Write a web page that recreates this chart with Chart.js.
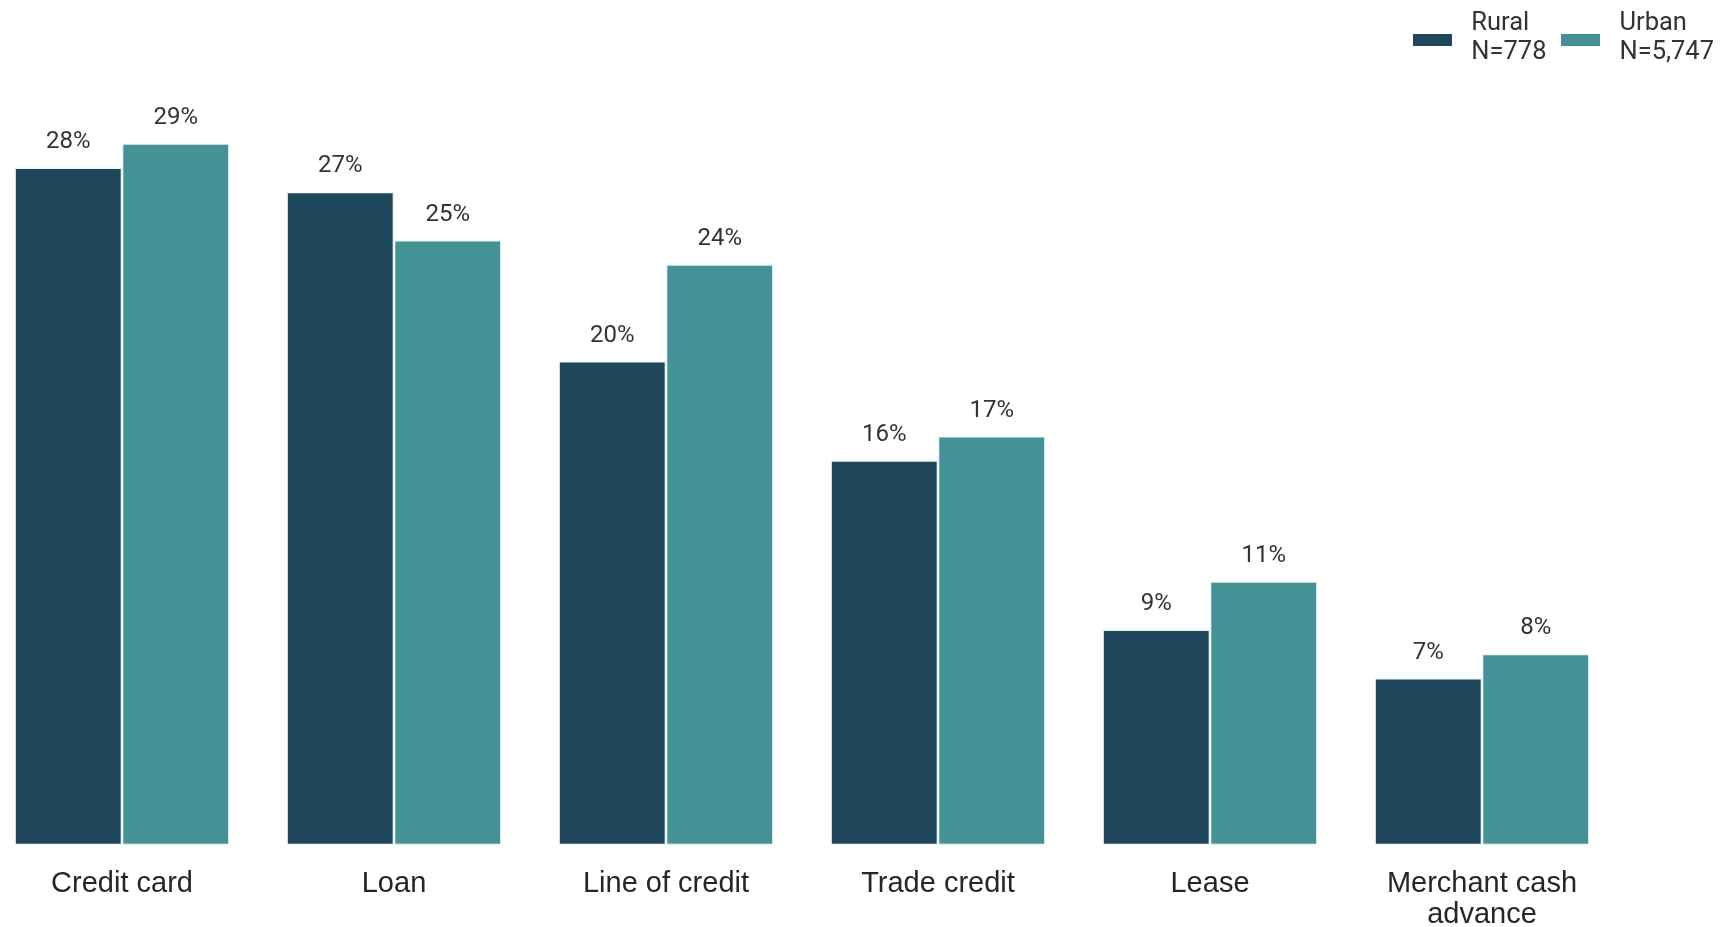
<!DOCTYPE html>
<html>
<head>
<meta charset="utf-8">
<script src="https://cdn.jsdelivr.net/npm/chart.js@4.4.1/dist/chart.umd.min.js"></script>
<style>
    html, body { margin: 0; padding: 0; background: #fff; overflow: hidden; }
    body { width: 1724px; height: 927px; position: relative; }
    .chart-wrap { position: absolute; left: -14px; top: 0; width: 1738px; height: 927px; }
    .legend { position: absolute; top: 7px; right: 10px; display: flex; font-family: Roboto, sans-serif; font-size: 25.5px; line-height: 29px; color: #333; }
    .legend-item { display: flex; align-items: flex-start; margin-left: 15px; }
    .legend-swatch { width: 39px; height: 12px; margin-top: 26.5px; margin-right: 19px; }
</style>
</head>
<body>
<div class="chart-wrap"><canvas id="barChart"></canvas></div>
<div class="legend" id="legend"></div>
<script>
const categories = ['Credit card', 'Loan', 'Line of credit', 'Trade credit', 'Lease', ['Merchant cash', 'advance']];
const seriesNames = [['Rural', 'N=778'], ['Urban', 'N=5,747']];
const ruralValues = [28, 27, 20, 15.9, 8.9, 6.9];
const urbanValues = [29, 25, 24, 16.9, 10.9, 7.9];
const seriesColors = ['#1f475c', '#449296'];

// 막대 위 퍼센트 라벨
const barLabels = {
    id: 'barLabels',
    afterDatasetsDraw(chart) {
        const ctx = chart.ctx;
        ctx.save();
        ctx.font = '24px Roboto, sans-serif';
        ctx.fillStyle = '#333333';
        ctx.textAlign = 'center';
        ctx.textBaseline = 'alphabetic';
        chart.data.datasets.forEach((ds, i) => {
            chart.getDatasetMeta(i).data.forEach((bar, j) => {
                ctx.fillText(Math.round(ds.data[j]) + '%', bar.x, bar.y - 19.5);
            });
        });
        ctx.restore();
    }
};

const ctx = document.getElementById('barChart').getContext('2d');
const chart = new Chart(ctx, {
    type: 'bar',
    data: {
        labels: categories,
        datasets: [ruralValues, urbanValues].map((values, i) => ({
            label: seriesNames[i].join(' '),
            data: values,
            backgroundColor: seriesColors[i],
            borderColor: '#eef3f5',
            borderWidth: 1.3,
            borderSkipped: false,
            categoryPercentage: 0.79,
            barPercentage: 1
        }))
    },
    options: {
        responsive: true,
        maintainAspectRatio: false,
        animation: false,
        layout: { padding: { top: 71, right: 106, left: 0, bottom: 0 } },
        plugins: { legend: { display: false }, tooltip: { enabled: true } },
        scales: {
            x: {
                grid: { display: false, drawTicks: false },
                border: { display: false },
                ticks: {
                    color: '#262626',
                    padding: 24,
                    maxRotation: 0,
                    autoSkip: false,
                    font: { family: '"Liberation Sans", Arial, sans-serif', size: 29, lineHeight: '30.5px' }
                },
                afterFit: scale => { scale.height = 82; }
            },
            y: { display: false, min: 0, max: 32 }
        }
    },
    plugins: [barLabels]
});

// 범례 (두 줄 텍스트)
const legend = document.getElementById('legend');
seriesNames.forEach((lines, i) => {
    const item = document.createElement('div');
    item.className = 'legend-item';
    item.innerHTML = `<span class="legend-swatch" style="background:${seriesColors[i]}"></span><span>${lines.join('<br>')}</span>`;
    legend.appendChild(item);
});
</script>
</body>
</html>
